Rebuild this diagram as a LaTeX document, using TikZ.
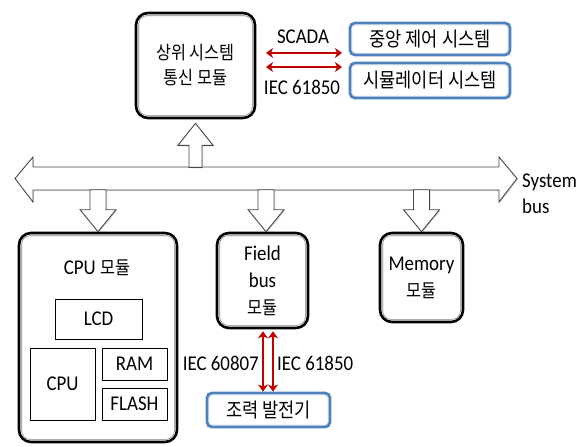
\documentclass[tikz,border=0pt]{standalone}
\usepackage{fontspec}
\setmainfont{Carlito}[FakeStretch=0.9]
\newfontfamily\krfont{Noto Sans CJK KR}[FakeStretch=0.88]
\usetikzlibrary{arrows.meta,shadows,calc}
\newcommand\kor[1]{{\krfont\fontsize{20}{24}\selectfont #1}}
\newcommand\kortop[1]{{\krfont\fontsize{18.5}{24}\selectfont #1}}
\newcommand\korsm[1]{{\krfont\fontsize{18.5}{24}\selectfont #1}}
\definecolor{busgray}{RGB}{70,70,70}
\definecolor{protored}{RGB}{192,0,0}
\definecolor{boxblue}{RGB}{79,129,189}
\definecolor{lightblue}{RGB}{160,188,225}
\begin{document}
\begin{tikzpicture}[x=1pt,y=-1pt,
  every node/.style={font=\fontsize{21}{27}\selectfont, inner sep=0pt},
  modbox/.style={draw=black, line width=2.6pt, rounded corners=12pt, fill=white, align=center},
  modinner/.style={draw=gray, line width=0.6pt, rounded corners=8pt},
  sysbox/.style={draw=boxblue, line width=2.8pt, rounded corners=5pt, fill=white},
  sysinner/.style={draw=lightblue, line width=0.6pt, rounded corners=3pt},
  partbox/.style={draw=black, line width=0.8pt, fill=white,
    drop shadow={shadow xshift=1.2pt, shadow yshift=-1.2pt, opacity=0.35}},
  blockarrow/.style={draw=busgray, line width=0.9pt, fill=white, line join=miter,
    drop shadow={shadow xshift=1pt, shadow yshift=-1pt, opacity=0.3}},
  protocol/.style={draw=protored, line width=1.8pt,
    {Stealth[length=7pt,width=10pt,inset=2pt]}-{Stealth[length=7pt,width=10pt,inset=2pt]}},
  downarrow/.pic={\draw[blockarrow] (0,0) -- (-18,-22) -- (-8,-22) -- (-8,-42)
     -- (8,-42) -- (8,-22) -- (18,-22) -- cycle;},
  uparrow/.pic={\draw[blockarrow] (0,0) -- (-17.5,22) -- (-6.5,22) -- (-6.5,44)
     -- (6.5,44) -- (6.5,22) -- (17.5,22) -- cycle;}
]
\useasboundingbox (0,0) rectangle (587,447);

% system bus
\draw[blockarrow] (15,178.5) -- (33,157) -- (33,167) -- (499,167) -- (499,157)
  -- (517,178.5) -- (499,202) -- (499,190) -- (33,190) -- (33,202) -- cycle;
\node[anchor=west] (sys1) at (522,182) {System};
\node[anchor=west] (sys2) at (522,206) {bus};

% modules
\node[modbox, minimum width=119pt, minimum height=105pt, font=\fontsize{21}{25}\selectfont]
  (top) at (195.5,65.5) {\kortop{상위 시스템}\\\kortop{통신 모듈}};
\node[modbox, minimum width=158pt, minimum height=209pt] (cpum) at (98,337.5) {};
\node[modbox, minimum width=91pt, minimum height=95pt] (field) at (262.5,280.5)
  {Field\\bus\\\korsm{모듈}};
\node[modbox, minimum width=83pt, minimum height=89pt] (mem) at (421.5,277.5)
  {Memory\\\korsm{모듈}};
\foreach \n in {top,cpum,field,mem}
  \draw[modinner] ([xshift=4pt,yshift=-4pt]\n.north west)
    rectangle ([xshift=-4pt,yshift=4pt]\n.south east);

% CPU module contents
\node (cpulabel) at (97,268) {CPU \korsm{모듈}};
\node[partbox, minimum width=87pt, minimum height=40pt] (lcd) at (98.5,319) {LCD};
\node[partbox, minimum width=65pt, minimum height=72pt] (cpu) at (62.5,384) {CPU};
\node[partbox, minimum width=65pt, minimum height=32pt] (ram) at (134.5,364) {RAM};
\node[partbox, minimum width=65pt, minimum height=32pt] (flash) at (134.5,404) {FLASH};

% external systems
\node[sysbox, minimum width=160pt, minimum height=32pt] (central) at (430,39) {\kor{중앙 제어 시스템}};
\node[sysbox, minimum width=160pt, minimum height=35pt] (sim) at (430,80.5) {\kor{시뮬레이터 시스템}};
\node[sysbox, minimum width=123pt, minimum height=34pt] (gen) at (268.5,410) {\kor{조력 발전기}};
\foreach \n in {central,sim,gen}
  \draw[sysinner] ([xshift=3.2pt,yshift=-3.2pt]\n.north west)
    rectangle ([xshift=-3.2pt,yshift=3.2pt]\n.south east);

% bus arrows
\pic at ($(top.south)+(0,4)$) {uparrow};
\pic at (cpum.north) {downarrow};
\pic at ([xshift=3.5pt]field.north) {downarrow};
\pic at (mem.north) {downarrow};

% protocol links (upper)
\coordinate (scL) at (266,53);
\coordinate (scR) at (342,53);
\coordinate (ieL) at (266,67);
\coordinate (ieR) at (342,67);
\draw[protocol] (scL) -- (scR);
\draw[protocol] (ieL) -- (ieR);
\node (scada) at (303,37) {SCADA};
\node (iec1) at (302,87) {IEC 61850};

% protocol links (field bus)
\draw[protocol] ([xshift=0.5pt,yshift=-2pt]field.south) -- ([xshift=-5.5pt]gen.north);
\draw[protocol] ([xshift=10.5pt,yshift=-2pt]field.south) -- ([xshift=4.5pt]gen.north);
\node[anchor=east] (iec2) at (259,363) {IEC 60807};
\node[anchor=west] (iec3) at (277,363) {IEC 61850};
\end{tikzpicture}
\end{document}
